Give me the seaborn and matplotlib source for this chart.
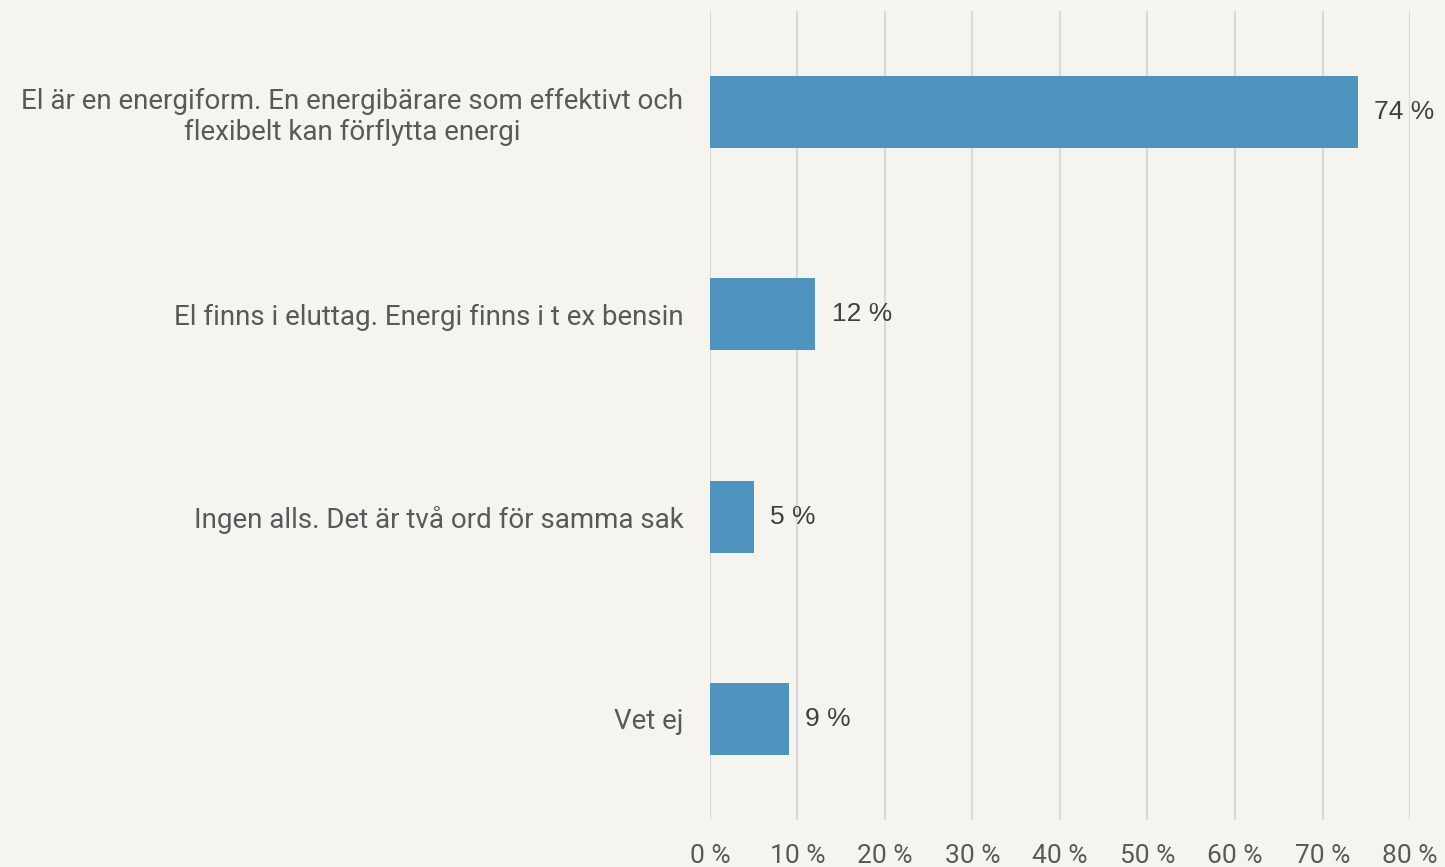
import pandas as pd
import seaborn as sns
import matplotlib.pyplot as plt
from matplotlib import font_manager

answers = ["El är en energiform. En energibärare som effektivt och\nflexibelt kan förflytta energi",
           "El finns i eluttag. Energi finns i t ex bensin",
           "Ingen alls. Det är två ord för samma sak",
           "Vet ej"]
shares = [74, 12, 5, 9]
ticks = [0, 10, 20, 30, 40, 50, 60, 70, 80]
tick_labels = [f"{t} %" for t in ticks]

df = pd.DataFrame({'Svar': answers, 'Andel': shares})

names = {f.name for f in font_manager.fontManager.ttflist}
narrow = 'Liberation Sans Narrow' if 'Liberation Sans Narrow' in names else 'Roboto'

bg = '#f5f4ee'
sns.set_style('white')
plt.rcParams['font.family'] = [narrow, 'DejaVu Sans']

fig = plt.figure(figsize=(14.45, 8.67), dpi=100, facecolor=bg)
ax = fig.add_axes([0.4913, 0.0542, 0.4845, 0.9331], facecolor=bg)

sns.barplot(data=df, x='Andel', y='Svar', orient='h', color='#4e94bf',
            saturation=1, width=0.355, linewidth=0, ax=ax, zorder=3)

ax.set_xlim(0, 80)
ax.set_xticks(ticks)
ax.set_xticklabels(tick_labels, fontsize=19, color='#595959')
ax.tick_params(axis='x', length=0, pad=17)
ax.tick_params(axis='y', length=0, pad=19, labelsize=20, labelcolor='#595959')
for lab in ax.get_yticklabels():
    lab.set_multialignment('center')
ax.xaxis.grid(True, color='#d9d9d9', linewidth=1.5, zorder=0)
ax.set_axisbelow(True)
ax.set_xlabel('')
ax.set_ylabel('')
for s in ax.spines.values():
    s.set_visible(False)

ax.bar_label(ax.containers[0], labels=[f"{v} %" for v in shares], padding=12,
             fontsize=19, color='#404040', family=['Liberation Sans', 'DejaVu Sans'])

fig.savefig('out.png', dpi=100, facecolor=bg)
